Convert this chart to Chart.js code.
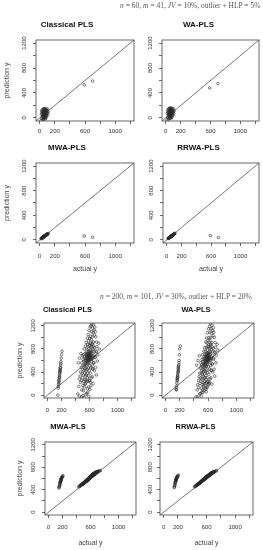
<!DOCTYPE html>
<html><head><meta charset="utf-8">
<script src="https://cdn.jsdelivr.net/npm/chart.js@4/dist/chart.umd.min.js"></script>
<style>
html,body{margin:0;padding:0;background:#fff;}
body{width:263px;height:550px;position:relative;overflow:hidden;}
canvas{position:absolute;}
.sub{position:absolute;font-family:"Liberation Serif","DejaVu Serif",serif;font-size:7.5px;line-height:7.5px;color:#555;white-space:nowrap;opacity:0.99;will-change:transform;}
</style></head><body>
<div class="sub" style="right:3px;top:2px;"><i>n</i> = 60, <i>m</i> = 41, <i>JV</i> = 10%, outlier + HLP = 5%</div>
<div class="sub" style="right:11px;top:293px;"><i>n</i> = 200, <i>m</i> = 101, <i>JV</i> = 30%, outlier + HLP = 20%</div>
<script>
// ---------- data ----------
const methods = ['Classical PLS', 'WA-PLS', 'MWA-PLS', 'RRWA-PLS'];
const xTickValues = [0, 200, 400, 600, 800, 1000, 1200];
const xTickLabels = ['0', '200', '', '600', '', '1000', ''];
const yTickValues = [0, 200, 400, 600, 800, 1000, 1200];
const yTickLabels = ['0', '', '400', '', '800', '', '1200'];
const axisRange = [-50, 1250];
const refLine = [-50, 1250]; // y = x reference line

// n = 60 block
const actualTop = [18,22,25,28,30,32,34,36,38,40, 41,43,44,46,47,48,50,51,52,54, 55,56,57,58,59,60,61,62,63,64,
  65,66,67,68,69,70,71,72,73,74, 75,76,77,78,80,81,83,84,86,88, 90,92,94,97,100,104,108,112, 590,700];
const classicalTop = [-40,60,110,-10,80,20,130,50,-30,100, 70,10,140,40,90,-20,120,60,30,150,
  0,80,110,50,20,130,70,-10,100,40, 140,60,90,10,120,30,80,150,50,-20,
  110,70,20,130,60,100,0,90,140,40, 120,70,30,110,80,140,60,100, 530,590];
const waTop = [-30,70,120,0,90,30,140,60,-20,110, 80,20,150,50,100,-10,130,70,40,160,
  10,90,120,60,30,140,80,0,110,50, 150,70,100,20,130,40,90,160,60,-10,
  120,80,30,140,70,110,10,100,150,50, 130,80,40,120,90,150,70,110, 480,550];
const mwaTop = [20,28,22,35,30,36,28,40,38,45, 40,46,38,48,44,52,46,50,55,49,
  56,50,58,54,60,55,62,58,57,64, 60,66,62,68,64,70,65,72,68,70,
  74,70,76,72,78,76,80,78,84,82, 86,84,90,92,94,98,100,104, 63,42];
const rrwaTop = [22,26,28,32,30,34,33,38,40,42, 42,44,40,47,45,50,48,52,53,51,
  55,52,57,56,59,58,61,60,59,63, 62,65,64,67,66,69,67,71,70,72,
  73,72,75,74,78,77,81,80,83,84, 87,86,90,93,96,100,103,108, 70,38];

// n = 200 block
const actualBottom = [148,152,155,158,160,162,165,166,168,170,172,174,175,177,178,180,182,183,185,188,190,192,195,200,208,
  432,441,447,455,458,466,469,474,477,483, 485,489,491,494,498,500,503,506,509,511,
  513,515,518,519,521,524,525,527,529,531, 532,534,535,537,539,540,542,543,545,547,
  548,549,551,552,553,555,556,558,559,560, 561,562,563,565,566,566,568,569,570,571,
  572,572,574,575,576,577,578,578,580,581, 582,583,583,585,586,587,588,589,590,591,
  592,592,594,595,596,597,598,599,600,601, 602,603,604,605,605,607,608,609,610,611,
  612,613,615,616,617,619,620,621,622,624, 625,626,628,629,630,632,633,635,636,638,
  639,641,642,644,646,647,649,651,653,655, 657,659,661,663,666,668,671,673,676,679,
  682,686,689,693,697,701,706,712,719,731,
  455,485,505,525,545,560,575,590,605,620,635,650,665,680,700,540,570,600,630,660,515,585,615,645,740];
const classicalBottom = [0,150,120,180,210,250,230,270,300,330,310,360,400,380,430,450,420,480,470,520,550,580,640,700,760,
  20,560,150,280,640,330,220,400,720,480, 250,560,90,380,680,300,450,170,620,520,
  350,700,240,590,430,800,140,660,510,380, 270,720,460,600,190,540,850,330,640,480,
  560,260,700,420,910,600,350,760,520,640, 230,680,590,820,450,720,640,380,990,560,
  620,300,700,880,540,660,240,760,610,1050, 680,470,720,600,940,650,330,700,810,560,
  1120,640,690,420,760,620,870,660,250,720, 980,600,680,740,510,860,650,1180,700,380,
  760,900,620,1020,690,470,820,660,1200,740, 580,960,700,1100,840,640,1230,760,900,520,
  1010,320,880,1160,640,460,800,1080,200,920, 1220,850,560,760,1130,420,1040,820,1180,650,
  1100,480,1010,760,350,920,840,590,700,900,
  -20,-30,-10,-40,10,30,50,-20,100,160,620,680,700,660,750,200,110,260,300,560,80,140,220,450,800];
const waBottom = [100,130,90,160,210,250,280,300,260,330,350,310,380,420,400,460,480,500,440,520,560,600,700,800,850,
  -30,520,90,180,600,250,130,320,680,380, 200,470,30,300,560,240,380,120,520,430,
  280,620,180,500,360,700,90,580,440,330, 220,640,400,540,150,480,760,290,580,420,
  500,230,640,370,820,540,300,700,470,590, 200,630,540,760,410,680,600,340,920,520,
  580,270,660,830,500,620,210,720,570,990, 650,430,690,560,900,620,300,670,780,530,
  1080,610,660,390,730,590,840,640,230,700, 950,580,660,720,490,840,630,1150,690,360,
  750,880,610,1000,680,450,810,650,1190,730, 570,950,700,1090,830,630,1240,750,890,510,
  1000,300,870,1150,630,430,790,1070,190,910, 1210,840,540,750,1120,400,1030,810,1170,620,
  1090,450,1000,750,330,910,830,560,690,880,
  -30,20,-20,40,80,120,60,150,180,220,600,660,690,640,740,170,100,240,280,540,50,130,200,430,780];
const mwaBottom = [430,445,460,470,480,500,510,520,530,540,545,555,560,570,575,585,590,600,605,610,615,620,630,640,650,
  452,455,470,468,482,478,490,486,497,492, 505,498,512,506,518,510,524,515,528,520,
  534,522,538,530,541,536,548,540,552,545, 556,543,552,560,548,566,553,562,570,558,
  565,574,560,571,580,566,577,584,572,580, 585,574,590,578,594,582,589,598,580,592,
  600,585,596,604,590,602,595,610,596,605, 598,612,604,618,600,612,622,606,616,610,
  625,612,622,630,616,628,620,634,618,630, 638,622,634,628,642,630,646,636,628,644,
  638,652,640,648,656,642,654,648,660,650, 662,652,668,656,664,672,660,670,676,664,
  674,682,670,680,688,678,686,692,682,690, 696,688,700,694,704,698,708,702,712,706,
  714,708,718,716,722,720,726,724,730,736,
  476,500,518,546,560,572,592,602,622,634,650,664,676,690,706,552,584,612,646,672,532,600,628,658,740];
const rrwaBottom = [440,450,470,480,500,520,530,540,550,560,570,575,580,590,595,600,605,610,615,620,625,630,640,650,660,
  452,458,470,468,480,482,490,488,498,496, 503,500,510,508,516,512,522,518,527,524,
  532,528,538,534,543,540,547,545,551,549, 556,550,558,562,555,564,560,566,570,563,
  572,567,575,570,578,574,580,577,583,579, 586,580,589,584,591,587,594,589,596,592,
  598,593,600,597,603,599,605,601,607,603, 609,604,611,607,614,609,616,612,618,614,
  620,615,622,618,625,620,627,622,629,624, 631,626,633,628,636,630,638,633,640,635,
  642,637,645,640,647,642,650,645,652,647, 655,650,658,653,661,656,664,659,667,662,
  670,665,673,668,677,672,680,676,684,679, 688,683,692,687,696,691,700,695,705,700,
  708,704,713,709,717,714,722,719,728,736,
  474,502,520,540,558,574,588,604,620,634,648,662,676,690,706,556,582,610,642,670,528,596,626,656,738];

// ---------- layout / style ----------
const FONT = '"Liberation Sans", Arial, Helvetica, sans-serif';
const TICK_SIZE = 6, AXIS_TITLE_SIZE = 7, TICK_LEN = 3;
const panels = [
  {x: actualTop, y: classicalTop, m: 0, box: [36,134,40,121], titleY: 25, titleSize: 8, ylabX: 24, yTitleX: 7.5, xLabY: 131, xTitleY: null, left: 0},
  {x: actualTop, y: waTop, m: 1, box: [162,259,40,121], titleY: 25, titleSize: 8, ylabX: 150, yTitleX: null, xLabY: 131, xTitleY: null, left: 138},
  {x: actualTop, y: mwaTop, m: 2, box: [36,134,163,243], titleY: 148, titleSize: 8, ylabX: 24, yTitleX: 7.5, xLabY: 256, xTitleY: 269.5, left: 0},
  {x: actualTop, y: rrwaTop, m: 3, box: [163,259,163,243], titleY: 148, titleSize: 8, ylabX: 151, yTitleX: null, xLabY: 256, xTitleY: 269.5, left: 138},
  {x: actualBottom, y: classicalBottom, m: 0, box: [44,135,323,398], titleY: 310, titleSize: 7.5, ylabX: 33, yTitleX: 20, xLabY: 410, xTitleY: null, left: 0},
  {x: actualBottom, y: waBottom, m: 1, box: [162,254,323,398], titleY: 310, titleSize: 7.5, ylabX: 152, yTitleX: null, xLabY: 410, xTitleY: null, left: 138},
  {x: actualBottom, y: mwaBottom, m: 2, box: [45,136,442,515], titleY: 427, titleSize: 7.5, ylabX: 33, yTitleX: 20, xLabY: 527, xTitleY: 543, left: 0},
  {x: actualBottom, y: rrwaBottom, m: 3, box: [160,253,442,515], titleY: 427, titleSize: 7.5, ylabX: 150, yTitleX: null, xLabY: 527, xTitleY: 543, left: 138}
];

const boxPlugin = {
  id: 'frameBox',
  afterDatasetsDraw(chart) {
    const {ctx, chartArea: a} = chart;
    ctx.save();
    ctx.strokeStyle = '#444';
    ctx.lineWidth = 0.8;
    ctx.strokeRect(a.left, a.top, a.right - a.left, a.bottom - a.top);
    ctx.restore();
  }
};

const mctx = document.createElement('canvas').getContext('2d');
mctx.font = `normal ${TICK_SIZE}px ${FONT}`;
const widest = Math.max(...yTickLabels.map(t => mctx.measureText(t).width));

panels.forEach(p => {
  const [bL, bR, bT, bB] = p.box;
  const yw = bL - p.left;
  const padR = yw;
  const W = Math.round(yw + (bR - bL) + padR);
  const tLH = p.titleSize * 1.2;
  const y0 = p.titleY - tLH / 2;
  const top = Math.floor(y0);
  const padTop = y0 - top;
  const titlePadB = bT - p.titleY - tLH / 2;
  const aLH = AXIS_TITLE_SIZE * 1.2;
  const bottomEdge = p.xTitleY ? p.xTitleY + aLH / 2 : bB + 18;
  const H = Math.ceil(bottomEdge - top);
  const padBottom = H - (bottomEdge - top);
  const xh = bottomEdge - bB;
  const tickLH = TICK_SIZE * 1.2;
  const xPad = p.xLabY - bB - TICK_LEN - tickLH / 2;
  const yPad = bL - p.ylabX - TICK_LEN - widest / 2;
  const yTitlePad = p.yTitleX != null ? p.yTitleX - p.left - aLH / 2 : 0;

  const cv = document.createElement('canvas');
  cv.width = W; cv.height = H;
  cv.style.left = p.left + 'px'; cv.style.top = top + 'px';
  cv.style.width = W + 'px'; cv.style.height = H + 'px';
  document.body.appendChild(cv);

  const gridOpts = {display: true, drawOnChartArea: false, drawTicks: true, tickLength: TICK_LEN, tickWidth: 0.8, tickColor: '#444', color: '#444'};
  new Chart(cv, {
    type: 'scatter',
    data: {
      datasets: [
        {data: p.x.map((v, i) => ({x: v, y: p.y[i]})), pointRadius: 1.3, pointBorderWidth: 0.6,
         pointBorderColor: '#2a2a2a', pointBackgroundColor: 'rgba(0,0,0,0)', showLine: false},
        {data: refLine.map(v => ({x: v, y: v})), showLine: true, borderColor: '#555', borderWidth: 0.8,
         pointRadius: 0, fill: false}
      ]
    },
    options: {
      responsive: false, animation: false, devicePixelRatio: 1,
      layout: {padding: {left: 0, right: padR, top: padTop, bottom: padBottom}},
      plugins: {
        legend: {display: false}, tooltip: {enabled: false},
        title: {display: true, text: methods[p.m], color: '#111',
          font: {family: FONT, size: p.titleSize, weight: 'bold', lineHeight: 1.2},
          padding: {top: 0, bottom: titlePadB}}
      },
      scales: {
        x: {
          type: 'linear', min: axisRange[0], max: axisRange[1],
          afterBuildTicks: s => { s.ticks = xTickValues.map(v => ({value: v})); },
          afterFit: s => { s.height = xh; },
          border: {display: false}, grid: gridOpts,
          ticks: {autoSkip: false, minRotation: 0, maxRotation: 0, padding: xPad, color: '#333',
            font: {family: FONT, size: TICK_SIZE, lineHeight: 1.2},
            callback: v => xTickLabels[xTickValues.indexOf(v)] ?? ''},
          title: {display: !!p.xTitleY, text: 'actual y', color: '#444',
            font: {family: FONT, size: AXIS_TITLE_SIZE, lineHeight: 1.2}, padding: {top: 0, bottom: 0}}
        },
        y: {
          type: 'linear', min: axisRange[0], max: axisRange[1],
          afterBuildTicks: s => { s.ticks = yTickValues.map(v => ({value: v})); },
          afterFit: s => { s.width = yw; },
          border: {display: false}, grid: gridOpts,
          ticks: {autoSkip: false, minRotation: 90, maxRotation: 90, crossAlign: 'center', padding: yPad, color: '#333',
            font: {family: FONT, size: TICK_SIZE, lineHeight: 1.2},
            callback: v => yTickLabels[yTickValues.indexOf(v)] ?? ''},
          title: {display: p.yTitleX != null, text: 'prediction y', color: '#444',
            font: {family: FONT, size: AXIS_TITLE_SIZE, lineHeight: 1.2}, padding: {top: yTitlePad, bottom: 0}}
        }
      }
    },
    plugins: [boxPlugin]
  });
});
</script>
</body></html>
